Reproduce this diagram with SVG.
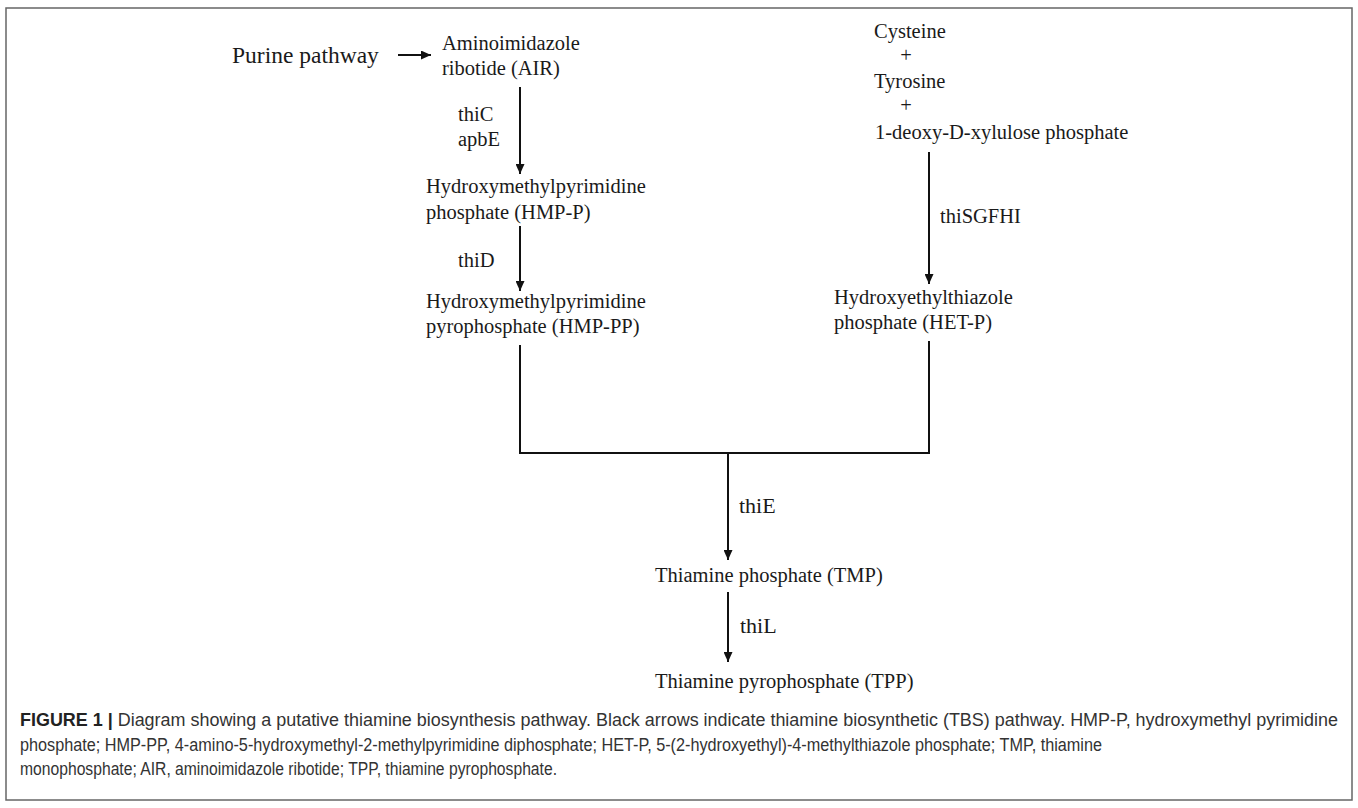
<svg xmlns="http://www.w3.org/2000/svg" width="1358" height="808" viewBox="0 0 1358 808">
<style>
.t{font-family:"Liberation Serif","Times New Roman",serif;font-size:20.5px;fill:#1a1a1a}
.big{font-size:23.5px}
.enz{font-size:22px}
.cap{font-family:"Liberation Sans",Arial,sans-serif;font-size:17.5px;fill:#333}
.capb{font-weight:bold;fill:#222}
.ln{stroke:#111;stroke-width:2;fill:none}
</style>
<defs>
<marker id="ah" markerUnits="userSpaceOnUse" markerWidth="10" markerHeight="9" refX="10" refY="4.5" orient="auto">
<path d="M0,0 L10,4.5 L0,9 z" fill="#111"/>
</marker>
</defs>
<rect x="6" y="8" width="1346" height="792" fill="#fff" stroke="#666" stroke-width="1.5"/>
<g id="connectors">
<line class="ln" x1="398" y1="55" x2="431" y2="55" marker-end="url(#ah)"/>
<line class="ln" x1="520" y1="87" x2="520" y2="174" marker-end="url(#ah)"/>
<line class="ln" x1="520" y1="226" x2="520" y2="291" marker-end="url(#ah)"/>
<polyline class="ln" points="520,345 520,453 929,453 929,341"/>
<line class="ln" x1="929" y1="152" x2="929" y2="284" marker-end="url(#ah)"/>
<line class="ln" x1="728" y1="453" x2="728" y2="560" marker-end="url(#ah)"/>
<line class="ln" x1="728" y1="592" x2="728" y2="662" marker-end="url(#ah)"/>
</g>
<g id="purine"><text class="t big" x="232" y="63">Purine pathway</text></g>
<g id="air"><text class="t" x="442" y="50">Aminoimidazole</text><text class="t" x="442" y="75">ribotide (AIR)</text></g>
<g id="lbl-thiC"><text class="t" x="458" y="121">thiC</text><text class="t" x="458" y="146">apbE</text></g>
<g id="hmpp"><text class="t" x="426" y="193">Hydroxymethylpyrimidine</text><text class="t" x="426" y="219">phosphate (HMP-P)</text></g>
<g id="lbl-thiD"><text class="t" x="458" y="267">thiD</text></g>
<g id="hmppp"><text class="t" x="426" y="308">Hydroxymethylpyrimidine</text><text class="t" x="426" y="333">pyrophosphate (HMP-PP)</text></g>
<g id="substrates">
<text class="t" x="874" y="38">Cysteine</text>
<text class="t" x="906" y="62" text-anchor="middle">+</text>
<text class="t" x="874" y="88">Tyrosine</text>
<text class="t" x="906" y="112" text-anchor="middle">+</text>
<text class="t" x="875" y="139">1-deoxy-D-xylulose phosphate</text>
</g>
<g id="lbl-thiSGFHI"><text class="t" x="940" y="223">thiSGFHI</text></g>
<g id="hetp"><text class="t" x="834" y="304">Hydroxyethylthiazole</text><text class="t" x="834" y="329">phosphate (HET-P)</text></g>
<g id="lbl-thiE"><text class="t enz" x="739" y="513">thiE</text></g>
<g id="tmp"><text class="t" x="655" y="582">Thiamine phosphate (TMP)</text></g>
<g id="lbl-thiL"><text class="t enz" x="740" y="633">thiL</text></g>
<g id="tpp"><text class="t" x="655" y="688">Thiamine pyrophosphate (TPP)</text></g>
<g id="caption">
<text class="cap" x="20" y="726" textLength="1318" lengthAdjust="spacingAndGlyphs"><tspan class="capb">FIGURE 1 |</tspan> Diagram showing a putative thiamine biosynthesis pathway. Black arrows indicate thiamine biosynthetic (TBS) pathway. HMP-P, hydroxymethyl pyrimidine</text>
<text class="cap" x="20" y="751" textLength="1082" lengthAdjust="spacingAndGlyphs">phosphate; HMP-PP, 4-amino-5-hydroxymethyl-2-methylpyrimidine diphosphate; HET-P, 5-(2-hydroxyethyl)-4-methylthiazole phosphate; TMP, thiamine</text>
<text class="cap" x="20" y="775" textLength="537" lengthAdjust="spacingAndGlyphs">monophosphate; AIR, aminoimidazole ribotide; TPP, thiamine pyrophosphate.</text>
</g>
</svg>
